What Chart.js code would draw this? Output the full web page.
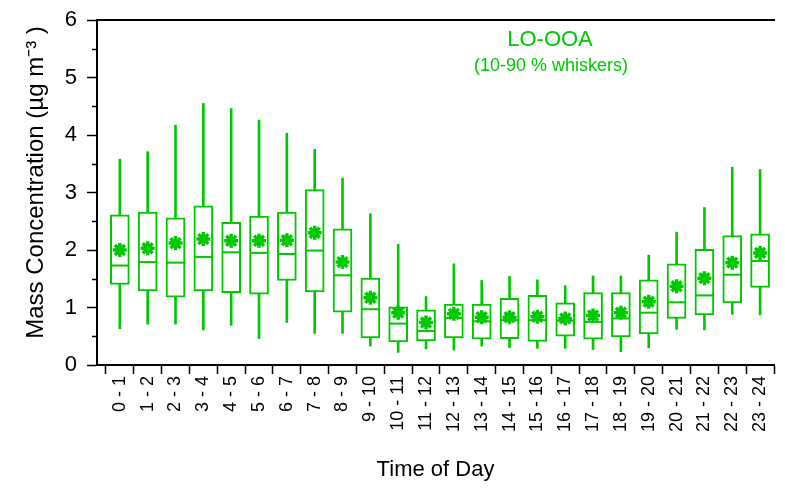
<!DOCTYPE html>
<html>
<head>
<meta charset="utf-8">
<script src="https://cdn.jsdelivr.net/npm/chart.js@4.4.0/dist/chart.umd.min.js"></script>
<style>
  html, body { margin: 0; padding: 0; background: #fff; }
  #wrap { width: 785px; height: 489px; }
</style>
</head>
<body>
<div id="wrap"><canvas id="boxChart"></canvas></div>
<script>
// hourly LO-OOA diurnal box plot
const timeLabels = ['0 - 1', '1 - 2', '2 - 3', '3 - 4', '4 - 5', '5 - 6', '6 - 7', '7 - 8', '8 - 9', '9 - 10',
    '10 - 11', '11 - 12', '12 - 13', '13 - 14', '14 - 15', '15 - 16', '16 - 17', '17 - 18', '18 - 19',
    '19 - 20', '20 - 21', '21 - 22', '22 - 23', '23 - 24'];
const p10 = [0.63, 0.71, 0.71, 0.61, 0.69, 0.46, 0.74, 0.55, 0.55, 0.33, 0.22, 0.28, 0.26, 0.33, 0.30,
    0.29, 0.29, 0.27, 0.23, 0.30, 0.62, 0.61, 0.88, 0.87];
const p25 = [1.40, 1.29, 1.18, 1.29, 1.26, 1.23, 1.47, 1.27, 0.92, 0.47, 0.40, 0.42, 0.47, 0.45, 0.46,
    0.41, 0.50, 0.45, 0.49, 0.54, 0.81, 0.87, 1.08, 1.35];
const median = [1.73, 1.79, 1.78, 1.88, 1.96, 1.95, 1.93, 1.99, 1.56, 0.97, 0.72, 0.59, 0.82, 0.76, 0.78,
    0.78, 0.77, 0.75, 0.81, 0.91, 1.09, 1.21, 1.57, 1.81];
const p75 = [2.61, 2.66, 2.56, 2.77, 2.48, 2.59, 2.66, 3.05, 2.37, 1.51, 1.01, 0.96, 1.06, 1.06, 1.16,
    1.21, 1.08, 1.26, 1.26, 1.48, 1.76, 2.01, 2.25, 2.28];
const p90 = [3.58, 3.71, 4.17, 4.55, 4.46, 4.26, 4.03, 3.75, 3.25, 2.63, 2.10, 1.19, 1.76, 1.47, 1.54,
    1.48, 1.38, 1.55, 1.55, 1.91, 2.31, 2.74, 3.44, 3.40];
const mean = [2.00, 2.03, 2.12, 2.19, 2.16, 2.16, 2.17, 2.30, 1.79, 1.17, 0.91, 0.74, 0.89, 0.83, 0.83,
    0.84, 0.81, 0.86, 0.91, 1.10, 1.37, 1.51, 1.78, 1.95];

const green = '#00c800';

// y minor ticks (half units) + in-plot labels
const extrasPlugin = {
    id: 'extras',
    afterDraw(chart) {
        const ctx = chart.ctx;
        const y = chart.scales.y;
        const left = chart.chartArea.left;
        ctx.save();
        ctx.strokeStyle = '#000';
        ctx.lineWidth = 1.5;
        for (let v = 0.5; v < 6; v += 1) {
            const py = Math.round(y.getPixelForValue(v)) + 0.5;
            ctx.beginPath();
            ctx.moveTo(left - 5, py);
            ctx.lineTo(left, py);
            ctx.stroke();
        }
        ctx.fillStyle = green;
        ctx.textAlign = 'center';
        ctx.textBaseline = 'middle';
        ctx.font = '22px "Liberation Sans", Arial, sans-serif';
        ctx.fillText('LO-OOA', 550, 40);
        ctx.font = '18px "Liberation Sans", Arial, sans-serif';
        ctx.fillText('(10-90 % whiskers)', 551, 66);
        ctx.restore();
    }
};

const idx = timeLabels.map((_, i) => i);

new Chart(document.getElementById('boxChart'), {
    type: 'bar',
    data: {
        datasets: [
            {
                label: 'mean',
                type: 'line',
                data: idx.map(i => ({ x: i, y: mean[i] })),
                showLine: false,
                pointStyle: 'star',
                pointRadius: 7,
                borderWidth: 3.5,
                borderColor: green,
                order: 0
            },
            {
                label: 'median',
                type: 'line',
                data: idx.map(i => ({ x: i, y: median[i] })),
                showLine: false,
                pointStyle: 'line',
                pointRadius: 9,
                borderWidth: 2,
                borderColor: green,
                order: 1
            },
            {
                label: 'box',
                data: idx.map(i => ({ x: i, y: [p25[i], p75[i]] })),
                backgroundColor: '#fff',
                borderColor: green,
                borderWidth: 2,
                borderSkipped: false,
                barThickness: 19,
                grouped: false,
                order: 2
            },
            {
                label: 'whisker',
                data: idx.map(i => ({ x: i, y: [p10[i], p90[i]] })),
                backgroundColor: green,
                borderWidth: 0,
                barThickness: 2,
                grouped: false,
                order: 3
            }
        ]
    },
    options: {
        responsive: true,
        maintainAspectRatio: false,
        animation: false,
        layout: { padding: { top: 20, right: 0, left: 0, bottom: 0 } },
        plugins: {
            legend: { display: false },
            tooltip: { enabled: false }
        },
        scales: {
            x: {
                type: 'linear',
                min: -0.82,
                max: 23.5,
                offset: false,
                afterBuildTicks: s => { s.ticks = idx.map(i => ({ value: i })); },
                afterFit: s => { s.height = 124; s.paddingLeft = 0; s.paddingRight = 0; },
                grid: { offset: true, drawOnChartArea: false, tickLength: 9, tickColor: '#000', tickWidth: 1.5 },
                border: { color: '#000', width: 2 },
                ticks: {
                    autoSkip: false,
                    maxRotation: 90,
                    minRotation: 90,
                    padding: 2,
                    color: '#000',
                    font: { family: '"Liberation Sans", Arial, sans-serif', size: 18 },
                    callback: (v, i) => timeLabels[i]
                },
                title: {
                    display: true,
                    text: 'Time of Day',
                    color: '#000',
                    font: { family: '"Liberation Sans", Arial, sans-serif', size: 22 },
                    padding: { top: 0, bottom: 6 }
                }
            },
            y: {
                min: 0,
                max: 6,
                afterFit: s => { s.width = 97; s.paddingTop = 0; s.paddingBottom = 0; },
                grid: { drawOnChartArea: false, tickLength: 10, tickColor: '#000', tickWidth: 1.5 },
                border: { color: '#000', width: 2 },
                ticks: {
                    stepSize: 1,
                    padding: 10,
                    color: '#000',
                    font: { family: '"Liberation Sans", Arial, sans-serif', size: 22 }
                },
                title: {
                    display: true,
                    text: '   Mass Concentration (µg m⁻³ )',
                    color: '#000',
                    font: { family: '"Liberation Sans", Arial, sans-serif', size: 24 },
                    padding: { top: 22, bottom: 0 }
                }
            },
            x2: {
                type: 'linear',
                position: 'top',
                min: 0,
                max: 1,
                afterFit: s => { s.height = 0; },
                grid: { drawOnChartArea: false, drawTicks: false },
                border: { color: '#000', width: 2 },
                ticks: { display: false }
            }
        }
    },
    plugins: [extrasPlugin]
});
</script>
</body>
</html>
